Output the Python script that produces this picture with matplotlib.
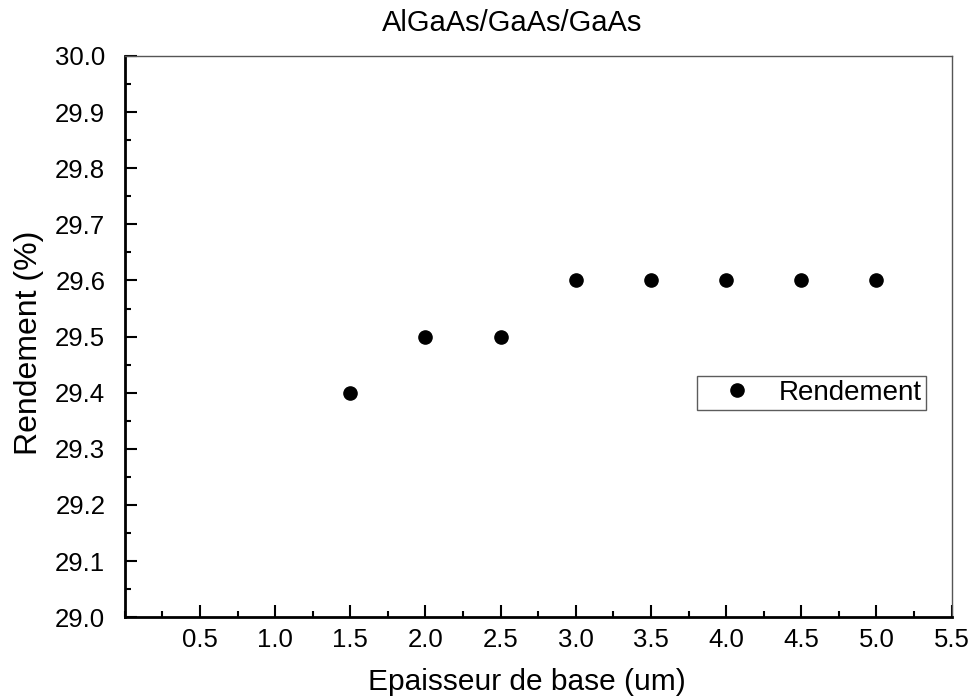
import matplotlib
matplotlib.use("Agg")
import matplotlib.pyplot as plt
from matplotlib.ticker import MultipleLocator

plt.rcParams['font.family'] = ['Liberation Sans', 'DejaVu Sans']

thickness = [1.5, 2.0, 2.5, 3.0, 3.5, 4.0, 4.5, 5.0]
rendement = [29.4, 29.5, 29.5, 29.6, 29.6, 29.6, 29.6, 29.6]
xticks = [0.5, 1.0, 1.5, 2.0, 2.5, 3.0, 3.5, 4.0, 4.5, 5.0, 5.5]
xticklabels = ['0.5', '1.0', '1.5', '2.0', '2.5', '3.0', '3.5', '4.0', '4.5', '5.0', '5.5']

fig = plt.figure(figsize=(9.75, 6.99), dpi=100)
ax = fig.add_axes([0.128, 0.117, 0.848, 0.803])
ax.plot(thickness, rendement, 'o', color='black', markersize=9.5, label='Rendement', linestyle='none')
ax.set_xlim(0, 5.5)
ax.set_ylim(29.0, 30.0)
ax.xaxis.set_minor_locator(MultipleLocator(0.25))
ax.yaxis.set_major_locator(MultipleLocator(0.1))
ax.yaxis.set_minor_locator(MultipleLocator(0.05))
ax.set_xticks(xticks)
ax.set_xticklabels(xticklabels)
ax.tick_params(which='major', direction='in', length=8.5, width=1.5, labelsize=18.5)
ax.tick_params(which='minor', direction='in', length=4.5, width=1.5)
ax.tick_params(axis='x', pad=8)
ax.tick_params(axis='y', pad=14)
for s in ['left', 'bottom']:
    ax.spines[s].set_linewidth(2)
    ax.spines[s].set_color('black')
for s in ['top', 'right']:
    ax.spines[s].set_linewidth(1)
    ax.spines[s].set_color('#555555')
ax.set_xlabel('Epaisseur de base (um)', fontsize=21.5, labelpad=11)
ax.xaxis.label.set_x(0.486)
ax.set_ylabel('Rendement (%)', fontsize=23, labelpad=8)
ax.yaxis.label.set_y(0.488)
ax.set_title('AlGaAs/GaAs/GaAs', fontsize=21, pad=18, x=0.468)
leg = ax.legend(loc='upper left', bbox_to_anchor=(0.692, 0.430), fontsize=20,
                frameon=True, fancybox=False, edgecolor='#333333', borderpad=0.15,
                handletextpad=0.2, handlelength=2.6, borderaxespad=0)
leg.get_frame().set_linewidth(1)
fig.savefig('out.png', dpi=100)
